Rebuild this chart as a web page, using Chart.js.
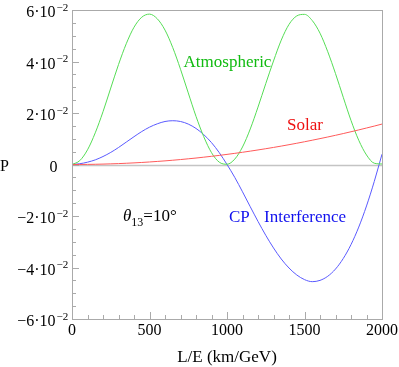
<!DOCTYPE html>
<html>
<head>
<meta charset="utf-8">
<script src="https://cdn.jsdelivr.net/npm/chart.js@4"></script>
<style>
  html, body { margin: 0; padding: 0; background: #fff; }
  #wrap { width: 399px; height: 367px; }
</style>
</head>
<body>
<div id="wrap"><canvas id="chartP"></canvas></div>
<script>
/* =========================
   DATA
========================= */
const xs = [0, 50, 100, 150, 200, 250, 300, 350, 400, 450, 500, 550, 600, 650, 700, 750, 800, 850, 900, 950,
  1000, 1050, 1100, 1150, 1200, 1250, 1300, 1350, 1400, 1450, 1500, 1550, 1600, 1650, 1700, 1750, 1800, 1850, 1900, 1950, 2000];

const atmospheric = [0, 0.0015, 0.0057, 0.0123, 0.0205, 0.0297, 0.0388, 0.0469, 0.0533, 0.0572, 0.0584, 0.0566, 0.0522, 0.0454, 0.0370, 0.0278, 0.0187, 0.0108, 0.0046, 0.0009,
  0.0001, 0.0021, 0.0068, 0.0138, 0.0223, 0.0314, 0.0402, 0.0483, 0.0544, 0.0577, 0.0583, 0.0559, 0.0510, 0.0438, 0.0353, 0.0261, 0.0171, 0.0094, 0.0037, 0.0005, 0.0002];

const solar = [0, 0.00001, 0.00004, 0.00009, 0.00016, 0.00025, 0.00035, 0.00048, 0.00063, 0.00079, 0.00098, 0.00119, 0.00141, 0.00166, 0.00192, 0.00221, 0.00251, 0.00284, 0.00318, 0.00354,
  0.00393, 0.00433, 0.00475, 0.00519, 0.00565, 0.00613, 0.00663, 0.00715, 0.00769, 0.00825, 0.00883, 0.00943, 0.01005, 0.01068, 0.01134, 0.01202, 0.01272, 0.01343, 0.01417, 0.01492, 0.0157];

const interference = [0, 0.0003, 0.0009, 0.0018, 0.0031, 0.0047, 0.0066, 0.0087, 0.0108, 0.0128, 0.0145, 0.0158, 0.0167, 0.0170, 0.0167, 0.0157, 0.0140, 0.0116, 0.0085, 0.0046,
  0.0000, -0.0050, -0.0106, -0.0164, -0.0221, -0.0275, -0.0324, -0.0367, -0.0402, -0.0429, -0.0447, -0.0455, -0.0450, -0.0434, -0.0406, -0.0365, -0.0311, -0.0243, -0.0161, -0.0066, 0.0040];

const yTicks = [-0.06, -0.04, -0.02, 0, 0.02, 0.04, 0.06];
const yTickBase = ["\u22126\u00b710", "\u22124\u00b710", "\u22122\u00b710", "0", "2\u00b710", "4\u00b710", "6\u00b710"];
const yTickExp = ["\u22122", "\u22122", "\u22122", "", "\u22122", "\u22122", "\u22122"];
const xTicks = [0, 500, 1000, 1500, 2000];
const xTickLabels = ["0", "500", "1000", "1500", "2000"];

const SERIF = '"Liberation Serif", "DejaVu Serif", serif';

/* =========================
   FRAME, TICKS, LABELS
========================= */
const framePlugin = {
  id: "frame",
  beforeDatasetsDraw(chart) {
    const { ctx, chartArea: a, scales } = chart;
    const y0 = Math.round(scales.y.getPixelForValue(0)) + 0.5;
    ctx.save();
    ctx.strokeStyle = "#c4c4c4";
    ctx.lineWidth = 1.3;
    ctx.beginPath();
    ctx.moveTo(a.left, y0);
    ctx.lineTo(a.right, y0);
    ctx.stroke();
    ctx.restore();
  },
  afterDraw(chart) {
    const { ctx, chartArea: a, scales } = chart;
    const sx = scales.x, sy = scales.y;
    ctx.save();
    ctx.strokeStyle = "#aaaaaa";
    ctx.lineWidth = 1;
    ctx.strokeRect(Math.round(a.left) + 0.5, Math.round(a.top) + 0.5,
      Math.round(a.right - a.left), Math.round(a.bottom - a.top));

    // y ticks (inward)
    ctx.beginPath();
    for (let v = -0.06; v <= 0.0601; v += 0.005) {
      const py = Math.round(sy.getPixelForValue(v)) + 0.5;
      const major = Math.abs(Math.round(v * 1000) % 20) === 0;
      ctx.moveTo(a.left, py);
      ctx.lineTo(a.left + (major ? 7 : 4), py);
    }
    // x ticks (inward)
    for (let v = 0; v <= 2000; v += 100) {
      const px = Math.round(sx.getPixelForValue(v)) + 0.5;
      const major = v % 500 === 0;
      ctx.moveTo(px, a.bottom);
      ctx.lineTo(px, a.bottom - (major ? 7 : 4));
    }
    ctx.stroke();

    ctx.fillStyle = "#000";
    // y tick labels
    yTicks.forEach((v, i) => {
      const py = sy.getPixelForValue(v);
      ctx.font = "16px " + SERIF;
      ctx.textAlign = "right";
      ctx.fillText(yTickBase[i], yTickExp[i] ? 55.5 : 57.5, py + 7);
      if (yTickExp[i]) {
        ctx.font = "11px " + SERIF;
        ctx.textAlign = "left";
        ctx.fillText(yTickExp[i], 56.5, py + 0.5);
      }
    });
    // x tick labels
    ctx.font = "16px " + SERIF;
    ctx.textAlign = "center";
    xTicks.forEach((v, i) => {
      ctx.fillText(xTickLabels[i], sx.getPixelForValue(v), 335);
    });
    // axis titles
    ctx.font = "17px " + SERIF;
    ctx.fillText("L/E (km/GeV)", (a.left + a.right) / 2, 362);
    ctx.textAlign = "left";
    ctx.font = "16px " + SERIF;
    ctx.fillText("P", 0, 171);

    // curve labels
    ctx.font = "17px " + SERIF;
    ctx.textAlign = "center";
    ctx.fillStyle = "#11bb11";
    ctx.fillText("Atmospheric", 227.5, 66.5);
    ctx.fillStyle = "#ee1111";
    ctx.fillText("Solar", 305, 130);
    ctx.fillStyle = "#1111ee";
    ctx.textAlign = "left";
    ctx.fillText("CP", 229, 222);
    ctx.fillText("Interference", 264, 222);

    // theta label
    ctx.fillStyle = "#000";
    ctx.font = "italic 17px " + SERIF;
    ctx.fillText("\u03b8", 123, 221);
    let w = ctx.measureText("\u03b8").width;
    ctx.font = "12px " + SERIF;
    ctx.fillText("13", 123 + w, 225.5);
    w += ctx.measureText("13").width;
    ctx.font = "17px " + SERIF;
    ctx.fillText("=10\u00b0", 123 + w, 221);
    ctx.restore();
  }
};

/* =========================
   CHART
========================= */
function series(vals, color) {
  return {
    data: xs.map((x, i) => ({ x: x, y: vals[i] })),
    borderColor: color,
    borderWidth: 1,
    pointRadius: 0,
    fill: false,
    cubicInterpolationMode: "monotone"
  };
}

new Chart(document.getElementById("chartP"), {
  type: "line",
  data: {
    datasets: [
      series(solar, "#ff5a5a"),
      series(atmospheric, "#55dd55"),
      series(interference, "#5a5aff")
    ]
  },
  options: {
    responsive: true,
    maintainAspectRatio: false,
    animation: false,
    layout: { padding: { left: 72, right: 17, top: 10, bottom: 48 } },
    plugins: { legend: { display: false }, tooltip: { enabled: false } },
    scales: {
      x: { type: "linear", min: 0, max: 2000, display: false },
      y: { type: "linear", min: -0.06, max: 0.06, display: false }
    }
  },
  plugins: [framePlugin]
});
</script>
</body>
</html>
